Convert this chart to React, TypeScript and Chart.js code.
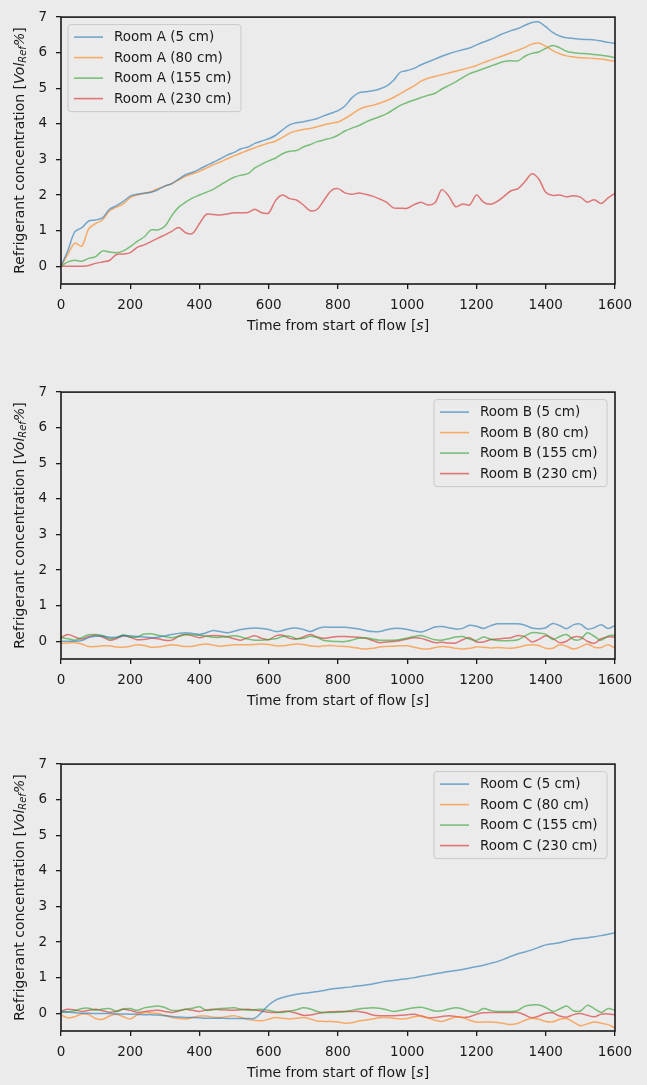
import React, { useEffect, useRef } from "react";
import { Chart, registerables } from "chart.js";

Chart.register(...registerables);

// ---------- data ----------
const TIME = [
  0, 20, 40, 60, 80, 100, 120, 140, 160, 180,
  200, 220, 240, 260, 280, 300, 320, 340, 360, 380,
  400, 420, 440, 460, 480, 500, 520, 540, 560, 580,
  600, 620, 640, 660, 680, 700, 720, 740, 760, 780,
  800, 820, 840, 860, 880, 900, 920, 940, 960, 980,
  1000, 1020, 1040, 1060, 1080, 1100, 1120, 1140, 1160, 1180,
  1200, 1220, 1240, 1260, 1280, 1300, 1320, 1340, 1360, 1380,
  1400, 1420, 1440, 1460, 1480, 1500, 1520, 1540, 1560, 1580,
  1600,
];
const X_TICKS = [0, 200, 400, 600, 800, 1000, 1200, 1400, 1600];
const Y_TICKS = [0, 1, 2, 3, 4, 5, 6, 7];
const DEPTHS = ["5 cm", "80 cm", "155 cm", "230 cm"];

const ROOM_A_5CM = [
  0, 0.45, 0.97, 1.08, 1.27, 1.3, 1.36, 1.6, 1.7, 1.82,
  1.97, 2.02, 2.05, 2.08, 2.15, 2.25, 2.32, 2.45, 2.57, 2.64,
  2.73, 2.83, 2.92, 3.02, 3.12, 3.2, 3.3, 3.35, 3.45, 3.52,
  3.58, 3.68, 3.83, 3.97, 4.03, 4.06, 4.1, 4.15, 4.23, 4.3,
  4.37, 4.5, 4.73, 4.87, 4.9, 4.93, 4.98, 5.06, 5.22, 5.45,
  5.5, 5.56, 5.66, 5.74, 5.82, 5.9, 5.97, 6.03, 6.08, 6.13,
  6.22, 6.3, 6.37, 6.46, 6.55, 6.62, 6.68, 6.77, 6.85, 6.86,
  6.73, 6.57, 6.47, 6.42, 6.4, 6.38, 6.37, 6.36, 6.33, 6.29,
  6.26,
];
const ROOM_A_80CM = [
  0, 0.34, 0.65, 0.56, 1.05, 1.2, 1.3, 1.55, 1.66, 1.75,
  1.93, 2.0, 2.05, 2.09, 2.18, 2.25, 2.32, 2.43, 2.53, 2.6,
  2.67, 2.76, 2.85, 2.93, 3.02, 3.1, 3.18, 3.26, 3.33, 3.4,
  3.46, 3.52, 3.62, 3.74, 3.8, 3.84, 3.87, 3.92, 3.97, 4.02,
  4.05, 4.15, 4.27, 4.4, 4.48, 4.52, 4.58, 4.65, 4.74, 4.85,
  4.96, 5.07, 5.2, 5.28, 5.33, 5.38, 5.43, 5.48, 5.53, 5.58,
  5.64, 5.72, 5.79, 5.86, 5.93, 6.0, 6.07, 6.15, 6.24, 6.27,
  6.18, 6.06, 5.97, 5.91, 5.88, 5.86, 5.85, 5.84, 5.82, 5.79,
  5.76,
];
const ROOM_A_155CM = [
  0, 0.12, 0.17, 0.14, 0.22, 0.27, 0.43, 0.4, 0.38, 0.43,
  0.55, 0.7, 0.82, 1.02, 1.02, 1.12, 1.42, 1.66, 1.8, 1.92,
  2.0, 2.08, 2.16, 2.28, 2.4, 2.5, 2.56, 2.6, 2.76, 2.87,
  2.96, 3.04, 3.16, 3.23, 3.25, 3.35, 3.42, 3.5, 3.55, 3.6,
  3.68, 3.8, 3.88, 3.95, 4.05, 4.13, 4.2, 4.28, 4.4, 4.52,
  4.6, 4.67, 4.74, 4.8, 4.86, 4.98, 5.08, 5.18, 5.3, 5.41,
  5.48, 5.55, 5.62, 5.69, 5.75, 5.77, 5.77, 5.9, 5.98, 6.02,
  6.12, 6.2, 6.14, 6.04, 6.0, 5.98, 5.97, 5.95, 5.93, 5.9,
  5.86,
];
const ROOM_A_230CM = [
  0, 0, 0, 0, 0.02, 0.08, 0.12, 0.16, 0.33, 0.34,
  0.38, 0.53, 0.6, 0.69, 0.79, 0.88, 0.98, 1.09, 0.94, 0.92,
  1.2, 1.46, 1.45, 1.44, 1.47, 1.5, 1.5, 1.51, 1.6, 1.5,
  1.5, 1.85, 2.0, 1.9, 1.86, 1.72, 1.56, 1.6, 1.86, 2.12,
  2.18, 2.06, 2.02, 2.06, 2.02, 1.97, 1.89, 1.8, 1.64, 1.63,
  1.63, 1.73, 1.8, 1.72, 1.78, 2.15, 1.97, 1.67, 1.75, 1.72,
  2.0, 1.8, 1.74, 1.82, 1.97, 2.12, 2.18, 2.38, 2.6, 2.45,
  2.08, 1.99, 2.0, 1.95, 1.98, 1.94, 1.8, 1.87, 1.76, 1.92,
  2.05,
];

const ROOM_B_5CM = [
  0.0, 0.0, 0.0, 0.02, 0.1, 0.14, 0.14, 0.11, 0.11, 0.15,
  0.15, 0.13, 0.12, 0.1, 0.11, 0.15, 0.19, 0.22, 0.24, 0.22,
  0.19, 0.24, 0.3, 0.27, 0.24, 0.28, 0.33, 0.36, 0.37, 0.36,
  0.33, 0.27, 0.3, 0.36, 0.37, 0.33, 0.27, 0.35, 0.4, 0.39,
  0.39, 0.39, 0.37, 0.34, 0.3, 0.27, 0.27, 0.32, 0.36, 0.36,
  0.33, 0.29, 0.26, 0.32, 0.4, 0.41, 0.38, 0.34, 0.36, 0.45,
  0.42, 0.36, 0.43, 0.49, 0.49, 0.49, 0.49, 0.45, 0.37, 0.35,
  0.38, 0.5, 0.44, 0.35, 0.46, 0.48, 0.34, 0.38, 0.46, 0.36,
  0.44,
];
const ROOM_B_80CM = [
  -0.06, -0.05, -0.04, -0.08, -0.15, -0.15, -0.13, -0.13, -0.16, -0.17,
  -0.14, -0.1, -0.12, -0.17, -0.16, -0.13, -0.1, -0.12, -0.15, -0.14,
  -0.1, -0.08, -0.11, -0.14, -0.12, -0.1, -0.1, -0.1, -0.09, -0.08,
  -0.09, -0.13, -0.13, -0.1, -0.08, -0.09, -0.13, -0.15, -0.13, -0.12,
  -0.14, -0.15, -0.17, -0.2, -0.22, -0.2, -0.16, -0.15, -0.14, -0.13,
  -0.13, -0.17, -0.21, -0.22, -0.18, -0.15, -0.16, -0.2, -0.22, -0.2,
  -0.16, -0.17, -0.19, -0.18, -0.19, -0.2, -0.17, -0.12, -0.1, -0.12,
  -0.2, -0.2, -0.1, -0.14, -0.22, -0.16, -0.08, -0.17, -0.18, -0.1,
  -0.19,
];
const ROOM_B_155CM = [
  0.1, 0.07, 0.03, 0.1, 0.18, 0.19, 0.16, 0.07, 0.1, 0.18,
  0.12, 0.12, 0.2, 0.21, 0.17, 0.13, 0.1, 0.14, 0.19, 0.18,
  0.17, 0.14, 0.11, 0.11, 0.13, 0.15, 0.12, 0.06, 0.03, 0.03,
  0.05, 0.07, 0.13, 0.14, 0.07, 0.08, 0.14, 0.1, 0.02, 0.0,
  -0.01, -0.01, 0.03, 0.08, 0.1, 0.06, 0.03, 0.03, 0.03, 0.05,
  0.09, 0.13, 0.16, 0.1, 0.04, 0.03, 0.07, 0.12, 0.13, 0.06,
  0.02, 0.12, 0.06, 0.02, 0.01, 0.02, 0.04, 0.15, 0.24, 0.23,
  0.2, 0.05, 0.13, 0.19, 0.05, 0.05, 0.24, 0.14, 0.03, 0.15,
  0.17,
];
const ROOM_B_230CM = [
  0.1, 0.19, 0.12, 0.06, 0.13, 0.17, 0.12, 0.03, 0.07, 0.15,
  0.11, 0.04, 0.05, 0.08, 0.07, 0.03, 0.03, 0.14, 0.19, 0.15,
  0.1, 0.15, 0.16, 0.15, 0.12, 0.07, 0.03, 0.1, 0.15, 0.08,
  0.04, 0.15, 0.17, 0.08, 0.06, 0.12, 0.19, 0.12, 0.08, 0.11,
  0.13, 0.13, 0.12, 0.11, 0.08, 0.02, -0.04, -0.02, -0.01, 0.02,
  0.06, 0.1, 0.08, 0.02, -0.04, -0.03, -0.05, -0.05, 0.04, 0.1,
  -0.02, -0.02, 0.04, 0.06, 0.08, 0.1, 0.16, 0.12, -0.02, 0.05,
  0.15, 0.08, -0.04, 0.0, 0.12, 0.12, 0.0, -0.06, 0.07, 0.12,
  0.12,
];

const ROOM_C_5CM = [
  0.05, 0.03, 0.01, 0.0, 0.0, -0.01, -0.01, -0.01, -0.02, -0.02,
  -0.03, -0.03, -0.04, -0.04, -0.05, -0.07, -0.09, -0.11, -0.12, -0.12,
  -0.13, -0.14, -0.14, -0.14, -0.15, -0.15, -0.15, -0.15, -0.14, 0.03,
  0.23, 0.37, 0.44, 0.49, 0.53, 0.56, 0.58, 0.61, 0.64, 0.68,
  0.7, 0.72, 0.74, 0.77, 0.79, 0.82, 0.86, 0.9, 0.92, 0.95,
  0.97, 1.0, 1.04, 1.07, 1.11, 1.14, 1.17, 1.2, 1.23, 1.27,
  1.31, 1.35, 1.4, 1.45, 1.52, 1.6, 1.67, 1.72, 1.78, 1.85,
  1.92, 1.95, 1.98, 2.03, 2.08, 2.1, 2.12, 2.15, 2.18, 2.22,
  2.26,
];
const ROOM_C_80CM = [
  -0.05, -0.13, -0.1, -0.02, -0.04, -0.15, -0.17, -0.08, -0.03, -0.1,
  -0.16, -0.05, 0.02, 0.01, -0.01, -0.06, -0.12, -0.15, -0.16, -0.12,
  -0.08, -0.08, -0.11, -0.12, -0.09, -0.07, -0.12, -0.18, -0.2, -0.21,
  -0.17, -0.12, -0.14, -0.16, -0.14, -0.12, -0.16, -0.22, -0.23, -0.23,
  -0.25, -0.28, -0.27, -0.22, -0.19, -0.16, -0.13, -0.12, -0.14, -0.16,
  -0.15, -0.1, -0.07, -0.13, -0.2, -0.23, -0.17, -0.11, -0.12, -0.2,
  -0.25, -0.25, -0.25, -0.26, -0.29, -0.32, -0.28, -0.2, -0.14, -0.17,
  -0.23, -0.24, -0.17, -0.15, -0.25, -0.35, -0.3, -0.25, -0.28, -0.32,
  -0.41,
];
const ROOM_C_155CM = [
  0.02, 0.04, 0.07, 0.13, 0.14, 0.08, 0.12, 0.13, 0.06, 0.12,
  0.13, 0.08, 0.15, 0.18, 0.2, 0.16, 0.08, 0.08, 0.11, 0.14,
  0.18, 0.08, 0.1, 0.13, 0.14, 0.15, 0.11, 0.08, 0.1, 0.11,
  0.08, 0.04, 0.02, 0.06, 0.1, 0.15, 0.12, 0.05, 0.02, 0.02,
  0.03, 0.04, 0.08, 0.12, 0.14, 0.15, 0.14, 0.1, 0.05, 0.08,
  0.12, 0.15, 0.17, 0.12, 0.06, 0.07, 0.12, 0.15, 0.12, 0.05,
  0.03, 0.13, 0.08, 0.05, 0.05, 0.05, 0.08, 0.2, 0.23, 0.23,
  0.16, 0.05, 0.12, 0.2, 0.07, 0.06, 0.22, 0.13, 0.02, 0.13,
  0.08,
];
const ROOM_C_230CM = [
  0.06, 0.11, 0.09, 0.05, 0.08, 0.11, 0.07, 0.03, 0.05, 0.11,
  0.08, 0.02, 0.04, 0.07, 0.08, 0.05, 0.02, 0.06, 0.11, 0.08,
  0.05, 0.09, 0.11, 0.1, 0.09, 0.08, 0.1, 0.11, 0.09, 0.06,
  0.03, 0.02, 0.05, 0.05, 0.0, -0.06, -0.05, -0.01, 0.02, 0.04,
  0.05, 0.05, 0.05, 0.05, 0.01, -0.05, -0.07, -0.07, -0.07, -0.06,
  -0.04, -0.03, -0.08, -0.13, -0.12, -0.09, -0.07, -0.09, -0.12, -0.1,
  -0.03, 0.01, 0.02, 0.02, 0.02, 0.02, 0.02, -0.05, -0.13, -0.08,
  0.0, 0.01, -0.08, -0.11, -0.04, -0.01, -0.06, -0.1, -0.03, -0.02,
  -0.05,
];

// ---------- style ----------
const BG = "#ebebeb";
const INK = "#1a1a1a";
const FONT = '"DejaVu Sans", sans-serif';
const COLORS = [
  "rgba(31,119,180,0.6)",
  "rgba(255,127,14,0.6)",
  "rgba(44,160,44,0.6)",
  "rgba(214,39,40,0.6)",
];
const CANVAS_W = 647;
const CANVAS_H = 338;

type Seg = { text: string; font: string; dy: number };

function drawSegments(ctx: CanvasRenderingContext2D, segs: Seg[], cx: number, cy: number, rotate: boolean) {
  ctx.save();
  ctx.translate(cx, cy);
  if (rotate) ctx.rotate(-Math.PI / 2);
  let total = 0;
  for (const s of segs) {
    ctx.font = s.font;
    total += ctx.measureText(s.text).width;
  }
  let x = -total / 2;
  ctx.textBaseline = "middle";
  ctx.textAlign = "left";
  ctx.fillStyle = INK;
  for (const s of segs) {
    ctx.font = s.font;
    ctx.fillText(s.text, x, s.dy);
    x += ctx.measureText(s.text).width;
  }
  ctx.restore();
}

function makeDecor(side: "left" | "right") {
  return {
    id: "decor",
    afterDraw(chart: any) {
      const ctx: CanvasRenderingContext2D = chart.ctx;
      const a = chart.chartArea;
      ctx.save();
      // frame (all four spines)
      ctx.strokeStyle = INK;
      ctx.lineWidth = 1.6;
      ctx.strokeRect(a.left, a.top, a.right - a.left, a.bottom - a.top);

      // legend
      const W = 173;
      const H = 87;
      const bx = side === "left" ? a.left + 7 : a.right - 8 - W;
      const by = a.top + 7.5;
      ctx.beginPath();
      const r = 3;
      ctx.moveTo(bx + r, by);
      ctx.lineTo(bx + W - r, by);
      ctx.arcTo(bx + W, by, bx + W, by + r, r);
      ctx.lineTo(bx + W, by + H - r);
      ctx.arcTo(bx + W, by + H, bx + W - r, by + H, r);
      ctx.lineTo(bx + r, by + H);
      ctx.arcTo(bx, by + H, bx, by + H - r, r);
      ctx.lineTo(bx, by + r);
      ctx.arcTo(bx, by, bx + r, by, r);
      ctx.closePath();
      ctx.fillStyle = "rgba(235,235,235,0.8)";
      ctx.fill();
      ctx.strokeStyle = "#c8c8c8";
      ctx.lineWidth = 1;
      ctx.stroke();
      chart.data.datasets.forEach((ds: any, i: number) => {
        const cy = by + 12.5 + i * 20.5;
        ctx.strokeStyle = ds.borderColor;
        ctx.lineWidth = 1.6;
        ctx.beginPath();
        ctx.moveTo(bx + 6, cy);
        ctx.lineTo(bx + 35, cy);
        ctx.stroke();
        ctx.fillStyle = INK;
        ctx.font = `13.5px ${FONT}`;
        ctx.textBaseline = "middle";
        ctx.textAlign = "left";
        ctx.fillText(ds.label, bx + 46, cy + 0.5);
      });

      // x axis title
      drawSegments(
        ctx,
        [
          { text: "Time from start of flow [", font: `14px ${FONT}`, dy: 0 },
          { text: "s", font: `italic 14px ${FONT}`, dy: 0 },
          { text: "]", font: `14px ${FONT}`, dy: 0 },
        ],
        (a.left + a.right) / 2,
        a.bottom + 42,
        false
      );
      // y axis title
      drawSegments(
        ctx,
        [
          { text: "Refrigerant concentration [", font: `14px ${FONT}`, dy: 0 },
          { text: "Vol", font: `italic 14px ${FONT}`, dy: 0 },
          { text: "Ref", font: `italic 10px ${FONT}`, dy: 3 },
          { text: "%", font: `italic 14px ${FONT}`, dy: 0 },
          { text: "]", font: `14px ${FONT}`, dy: 0 },
        ],
        20,
        (a.top + a.bottom) / 2,
        true
      );
      ctx.restore();
    },
  };
}

type PanelProps = {
  room: string;
  series: number[][];
  legendSide: "left" | "right";
  top: number;
};

function Panel({ room, series, legendSide, top }: PanelProps) {
  const ref = useRef<HTMLCanvasElement | null>(null);
  useEffect(() => {
    const canvas = ref.current;
    if (!canvas) return;
    const axisCommon = {
      grid: {
        display: true,
        drawOnChartArea: false,
        drawTicks: true,
        tickLength: 5,
        color: INK,
        lineWidth: 1.3,
      },
      border: { display: false },
    };
    const chart = new Chart(canvas, {
      type: "line",
      data: {
        datasets: series.map((vals, i) => ({
          label: `${room} (${DEPTHS[i]})`,
          data: vals.map((v, j) => ({ x: TIME[j], y: v })),
          borderColor: COLORS[i],
          backgroundColor: COLORS[i],
          borderWidth: 1.5,
          pointRadius: 0,
          tension: 0.3,
          fill: false,
        })),
      },
      options: {
        responsive: false,
        animation: false,
        devicePixelRatio: 1,
        layout: { padding: { top: 9, right: 32, bottom: 0, left: 0 } },
        plugins: {
          legend: { display: false },
          tooltip: { enabled: false },
          title: { display: false },
        },
        scales: {
          x: {
            type: "linear",
            position: "bottom",
            min: 0,
            max: 1600,
            afterBuildTicks: (s: any) => {
              s.ticks = X_TICKS.map((v) => ({ value: v }));
            },
            afterFit: (s: any) => {
              s.height = 54;
            },
            ...axisCommon,
            ticks: {
              padding: 8,
              color: INK,
              font: { family: FONT, size: 13.5 },
              maxRotation: 0,
              autoSkip: false,
              callback: (v: any) => String(v),
            },
          },
          y: {
            type: "linear",
            min: -0.5,
            max: 7,
            afterBuildTicks: (s: any) => {
              s.ticks = Y_TICKS.map((v) => ({ value: v }));
            },
            afterFit: (s: any) => {
              s.width = 61;
            },
            ...axisCommon,
            ticks: {
              padding: 9,
              color: INK,
              font: { family: FONT, size: 13.5 },
              autoSkip: false,
              callback: (v: any) => String(v),
            },
          },
        },
      } as any,
      plugins: [makeDecor(legendSide)],
    });
    return () => chart.destroy();
  }, [room, series, legendSide]);
  return (
    <canvas
      ref={ref}
      width={CANVAS_W}
      height={CANVAS_H}
      style={{ position: "absolute", left: 0, top, display: "block" }}
    />
  );
}

const SERIES_A = [ROOM_A_5CM, ROOM_A_80CM, ROOM_A_155CM, ROOM_A_230CM];
const SERIES_B = [ROOM_B_5CM, ROOM_B_80CM, ROOM_B_155CM, ROOM_B_230CM];
const SERIES_C = [ROOM_C_5CM, ROOM_C_80CM, ROOM_C_155CM, ROOM_C_230CM];

export default function App() {
  return (
    <div
      style={{
        position: "absolute",
        left: 0,
        top: 0,
        width: 647,
        height: 1085,
        background: BG,
        overflow: "hidden",
      }}
    >
      <Panel room="Room A" series={SERIES_A} legendSide="left" top={0} />
      <Panel room="Room B" series={SERIES_B} legendSide="right" top={375} />
      <Panel room="Room C" series={SERIES_C} legendSide="right" top={747} />
    </div>
  );
}
